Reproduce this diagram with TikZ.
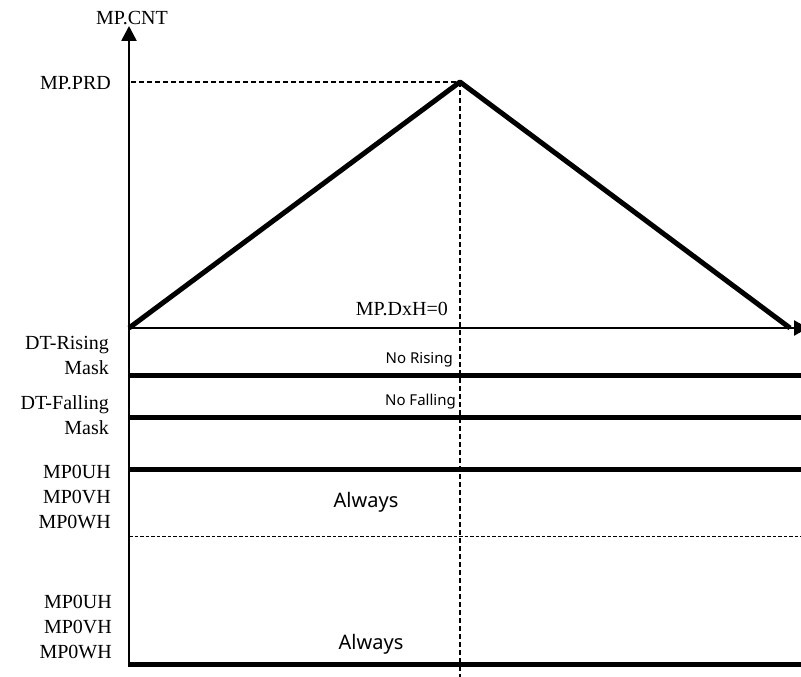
\documentclass[tikz,border=0pt]{standalone}
\usepackage{fontspec}
\setmainfont{Liberation Serif}
\newfontfamily\labsans{Noto Sans}
\usetikzlibrary{arrows.meta}
\tikzset{
  lbl/.style={font=\fontsize{20}{25}\selectfont, inner sep=0pt, align=right},
  smalltxt/.style={font=\labsans\fontsize{15}{18}\selectfont, inner sep=0pt},
  bigtxt/.style={font=\labsans\fontsize{20}{24}\selectfont, inner sep=0pt},
  axis/.style={line width=2.6pt},
  wave/.style={line width=5pt},
  tri/.style={line width=5pt, line join=round},
  guide/.style={line width=1.3pt, dash pattern=on 5pt off 3pt},
  fineguide/.style={line width=1pt, dash pattern=on 3.5pt off 2pt}
}
\begin{document}
\begin{tikzpicture}[x=1pt,y=-1pt]
\useasboundingbox (0,0) rectangle (801,677);
\clip (0,0) rectangle (801,677);
% coordinates
\coordinate (o) at (129,328);
\coordinate (ybot) at (129,667);
\coordinate (ytop) at (129,26);
\coordinate (xend) at (808,328);
\coordinate (peak) at (460,82);
\coordinate (rend) at (790,328);
\coordinate (prdL) at (131,82);
\coordinate (vbot) at (460,677);
% guides
\draw[guide] (prdL) -- (peak);
\draw[guide] (peak) -- (vbot);
% axes
\draw[axis,-{Triangle[width=15pt,length=15pt]}] (ybot) -- (ytop);
\draw[axis,-{Triangle[width=15pt,length=14pt]}] (o) -- (xend);
% triangle
\draw[tri] (o) -- (peak) -- (rend);
% waveform lines
\coordinate (r1L) at (129,375); \coordinate (r1R) at (801,375);
\coordinate (r2L) at (129,417); \coordinate (r2R) at (801,417);
\coordinate (r3L) at (129,469); \coordinate (r3R) at (801,469);
\coordinate (r4L) at (129,536); \coordinate (r4R) at (801,536);
\coordinate (r5L) at (129,664); \coordinate (r5R) at (801,664);
\draw[wave] (r1L) -- (r1R);
\draw[wave] (r2L) -- (r2R);
\draw[wave] (r3L) -- (r3R);
\draw[fineguide] (r4L) -- (r4R);
\draw[wave] (r5L) -- (r5R);
% labels
\node[lbl] (cnt) at (132,18) {MP.CNT};
\node[lbl, anchor=east] (prd) at (111,83) {MP.PRD};
\node[lbl, anchor=east] (dxh) at (448,309) {MP.DxH=0};
\node[lbl, anchor=east] (dtr) at (109,355) {DT-Rising\\Mask};
\node[lbl, anchor=east] (dtf) at (109,415) {DT-Falling\\Mask};
\node[lbl, anchor=east] (g1) at (111,497) {MP0UH\\MP0VH\\MP0WH};
\node[lbl, anchor=east] (g2) at (112,627) {MP0UH\\MP0VH\\MP0WH};
\node[smalltxt, anchor=east] (nr) at (453,360) {No Rising};
\node[smalltxt, anchor=east] (nf) at (456,402) {No Falling};
\node[bigtxt] (al1) at (366,502) {Always};
\node[bigtxt] (al2) at (371,644) {Always};
\end{tikzpicture}
\end{document}
